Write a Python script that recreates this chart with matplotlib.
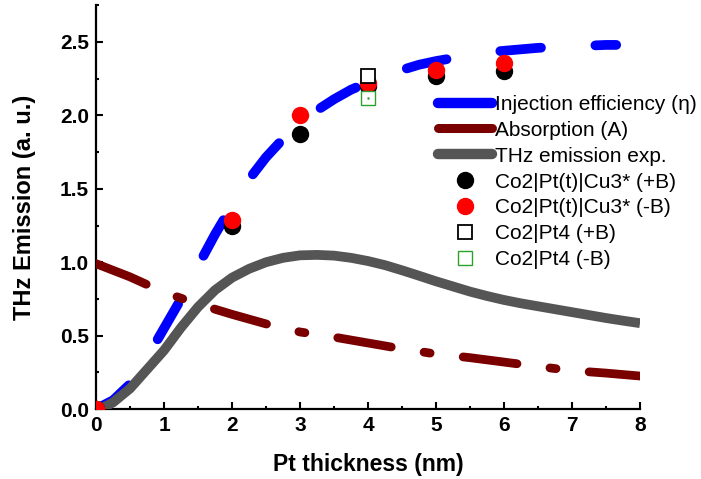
"""THz emission vs Pt thickness: injection efficiency, absorption and measured points."""

import matplotlib
matplotlib.use("Agg")
import matplotlib.pyplot as plt
from matplotlib.lines import Line2D
from matplotlib.ticker import MultipleLocator, FormatStrFormatter

plt.rcParams["font.family"] = ["Liberation Sans", "DejaVu Sans"]

# model curves
eta_x = [0, 0.25, 0.5, 0.75, 1.0, 1.25, 1.5, 1.75, 2.0, 2.25, 2.5, 2.75, 3.0,
         3.25, 3.5, 3.75, 4.0, 4.25, 4.5, 4.75, 5.0, 5.25, 5.5, 5.75, 6.0,
         6.25, 6.5, 6.75, 7.0, 7.25, 7.5, 7.65]
eta_y = [0.00, 0.06, 0.17, 0.35, 0.55, 0.75, 0.975, 1.19, 1.385, 1.565, 1.715, 1.84, 1.945,
         2.035, 2.11, 2.175, 2.225, 2.27, 2.31, 2.345, 2.37, 2.39, 2.41, 2.43, 2.44,
         2.45, 2.46, 2.465, 2.47, 2.475, 2.48, 2.48]

absorb_x = [0, 0.5, 1.0, 1.5, 2.0, 2.5, 3.0, 3.5, 4.0, 4.5, 5.0, 5.5, 6.0, 6.5, 7.0, 7.5, 8.0]
absorb_y = [0.99, 0.90, 0.795, 0.715, 0.645, 0.58, 0.525, 0.49, 0.45, 0.41, 0.375,
            0.35, 0.32, 0.29, 0.262, 0.245, 0.225]

thz_x = [0.06, 0.25, 0.5, 0.75, 1.0, 1.25, 1.5, 1.75, 2.0, 2.25, 2.5, 2.75, 3.0,
         3.25, 3.5, 3.75, 4.0, 4.25, 4.5, 4.75, 5.0, 5.25, 5.5, 5.75, 6.0,
         6.25, 6.5, 6.75, 7.0, 7.25, 7.5, 7.75, 8.0]
thz_y = [0.0, 0.045, 0.14, 0.27, 0.40, 0.555, 0.695, 0.81, 0.895, 0.955, 1.0, 1.03, 1.047,
         1.05, 1.045, 1.03, 1.008, 0.98, 0.945, 0.908, 0.87, 0.835, 0.80, 0.77, 0.743,
         0.72, 0.70, 0.68, 0.66, 0.64, 0.62, 0.602, 0.585]

# measured points
pt_t = [0, 2, 3, 4, 5, 6]
plus_b = [0.0, 1.25, 1.87, 2.20, 2.27, 2.30]
minus_b = [0.0, 1.29, 2.00, 2.22, 2.31, 2.36]
ref_t = [4]
ref_plus = [2.27]
ref_minus = [2.12]

BLUE = "#0000FF"
MAROON = "#7A0000"
GREY = "#555555"
GREEN = "#2CA02C"

fig = plt.figure(figsize=(7.01, 4.79), dpi=100)
ax = fig.add_axes([0.137, 0.146, 0.776, 0.843])

ax.plot(eta_x, eta_y, color=BLUE, lw=7.0, linestyle=(0, (4.2, 5.6)),
        dash_capstyle="round", solid_capstyle="round", zorder=2)
ax.plot(thz_x, thz_y, color=GREY, lw=7.0, solid_capstyle="butt", zorder=3)
ax.plot(absorb_x, absorb_y, color=MAROON, lw=6.3, linestyle=(0, (6.2, 3.8, 0.7, 3.8)),
        dash_capstyle="round", zorder=4)

ax.plot(pt_t, plus_b, "o", color="black", ms=11.5, zorder=5)
ax.plot(pt_t, minus_b, "o", color="red", ms=11.5, zorder=6)
ax.plot(ref_t, ref_plus, "s", mfc="white", mec="black", mew=1.3, ms=9.5, zorder=7)
ax.plot(ref_t, ref_minus, "s", mfc="white", mec=GREEN, mew=1.0, ms=9.5, zorder=7)
ax.plot(ref_t, ref_minus, ".", color=GREEN, ms=1.5, zorder=8)

ax.set_xlim(0, 8)
ax.set_ylim(0, 2.75)
ax.xaxis.set_major_locator(MultipleLocator(1))
ax.xaxis.set_minor_locator(MultipleLocator(0.5))
ax.yaxis.set_major_locator(MultipleLocator(0.5))
ax.yaxis.set_minor_locator(MultipleLocator(0.25))
ax.yaxis.set_major_formatter(FormatStrFormatter("%.1f"))
ax.tick_params(which="both", direction="in", width=1.5)
ax.tick_params(which="major", length=5, labelsize=15, pad=5)
ax.tick_params(which="minor", length=2.5)
for label in ax.get_xticklabels() + ax.get_yticklabels():
    label.set_fontweight("bold")
for side in ("top", "right"):
    ax.spines[side].set_visible(False)
for side in ("left", "bottom"):
    ax.spines[side].set_linewidth(1.6)

ax.set_xlabel("Pt thickness (nm)", fontsize=16.5, fontweight="bold", labelpad=13)
ax.set_ylabel("THz Emission (a. u.)", fontsize=17, fontweight="bold", labelpad=17)

handles = [
    Line2D([], [], color=BLUE, lw=7.5, solid_capstyle="round"),
    Line2D([], [], color=MAROON, lw=6.5, solid_capstyle="round"),
    Line2D([], [], color=GREY, lw=7.5, solid_capstyle="round"),
    Line2D([], [], marker="o", ls="none", color="black", ms=11.5),
    Line2D([], [], marker="o", ls="none", color="red", ms=11.5),
    Line2D([], [], marker="s", ls="none", mfc="white", mec="black", mew=1.3, ms=9.5),
    Line2D([], [], marker="s", ls="none", mfc="white", mec=GREEN, mew=1.0, ms=9.5),
]
labels = [
    "Injection efficiency (\u03b7)",
    "Absorption (A)",
    "THz emission exp.",
    "Co2|Pt(t)|Cu3* (+B)",
    "Co2|Pt(t)|Cu3* (-B)",
    "Co2|Pt4 (+B)",
    "Co2|Pt4 (-B)",
]
ax.legend(handles, labels, loc="upper left", bbox_to_anchor=(0.628, 0.778),
          frameon=False, fontsize=15, handlelength=2.6, handletextpad=0.15,
          labelspacing=0.33, borderpad=0, borderaxespad=0)

fig.savefig("out.png", dpi=100)
